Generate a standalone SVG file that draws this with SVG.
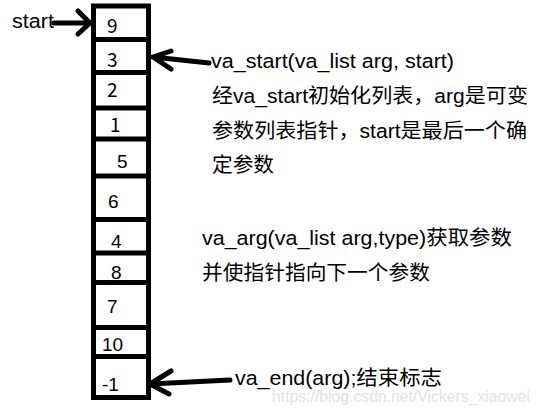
<svg xmlns="http://www.w3.org/2000/svg" width="540" height="414" viewBox="0 0 540 414">
<style>
.cell{fill:#fff;stroke:#000;stroke-width:5}
.num{font-family:"Noto Sans CJK SC","Liberation Sans",sans-serif;font-size:19px;fill:#000}
.arial{font-family:"Liberation Sans",sans-serif;font-size:19px;fill:#000}
.lbl{font-family:"Liberation Sans","Noto Sans CJK SC",sans-serif;font-size:20.5px;fill:#000}
.arr{fill:none;stroke:#000;stroke-width:5;stroke-linecap:round;stroke-linejoin:round}
.wm{font-family:"Liberation Sans",sans-serif;font-size:17px;fill:#e2e2e2}
</style>
<rect width="540" height="414" fill="#fff"/>
<g id="stack">
<rect class="cell" x="93.5" y="6" width="55" height="391.5"/>
<path d="M93.5 39.5H148.5M93.5 72.5H148.5M93.5 108H148.5M93.5 139H148.5M93.5 176H148.5M93.5 219.5H148.5M93.5 253H148.5M93.5 282.5H148.5M93.5 327.5H148.5M93.5 356.5H148.5" stroke="#000" stroke-width="5"/>
</g>
<g id="cells">
<text class="num" x="107" y="33">9</text>
<text class="num" x="107" y="67">3</text>
<text class="num" x="107" y="97">2</text>
<text class="num" x="110" y="132">1</text>
<text class="arial" x="117" y="168">5</text>
<text class="arial" x="108" y="208">6</text>
<text class="arial" x="111" y="248">4</text>
<text class="arial" x="111" y="279">8</text>
<text class="arial" x="107" y="313">7</text>
<text class="arial" x="102" y="351">10</text>
<text class="arial" x="102" y="391">-1</text>
</g>
<g id="connectors">
<path class="arr" d="M54 23H89M78 11L90 23L78 34"/>
<path class="arr" d="M153 57L209 63M171 51L153 57L171 69"/>
<path class="arr" d="M150 384L230 380M171 371L150 384L169 394"/>
</g>
<g id="labels">
<text class="lbl" x="12" y="28" textLength="42" lengthAdjust="spacingAndGlyphs">start</text>
<text class="lbl" x="211" y="68" textLength="243" lengthAdjust="spacingAndGlyphs">va_start(va_list arg, start)</text>
<text class="lbl" x="212" y="103" textLength="316" lengthAdjust="spacingAndGlyphs">经va_start初始化列表，arg是可变</text>
<text class="lbl" x="212" y="138" textLength="315" lengthAdjust="spacingAndGlyphs">参数列表指针，start是最后一个确</text>
<text class="lbl" x="212" y="172" textLength="62" lengthAdjust="spacingAndGlyphs">定参数</text>
<text class="lbl" x="202" y="245" textLength="310" lengthAdjust="spacingAndGlyphs">va_arg(va_list arg,type)获取参数</text>
<text class="lbl" x="202" y="280" textLength="228" lengthAdjust="spacingAndGlyphs">并使指针指向下一个参数</text>
<text class="lbl" x="235" y="385" textLength="207" lengthAdjust="spacingAndGlyphs">va_end(arg);结束标志</text>
</g>
<text class="wm" x="272" y="402" textLength="258" lengthAdjust="spacingAndGlyphs">https://blog.csdn.net/Vickers_xiaowei</text>
</svg>
